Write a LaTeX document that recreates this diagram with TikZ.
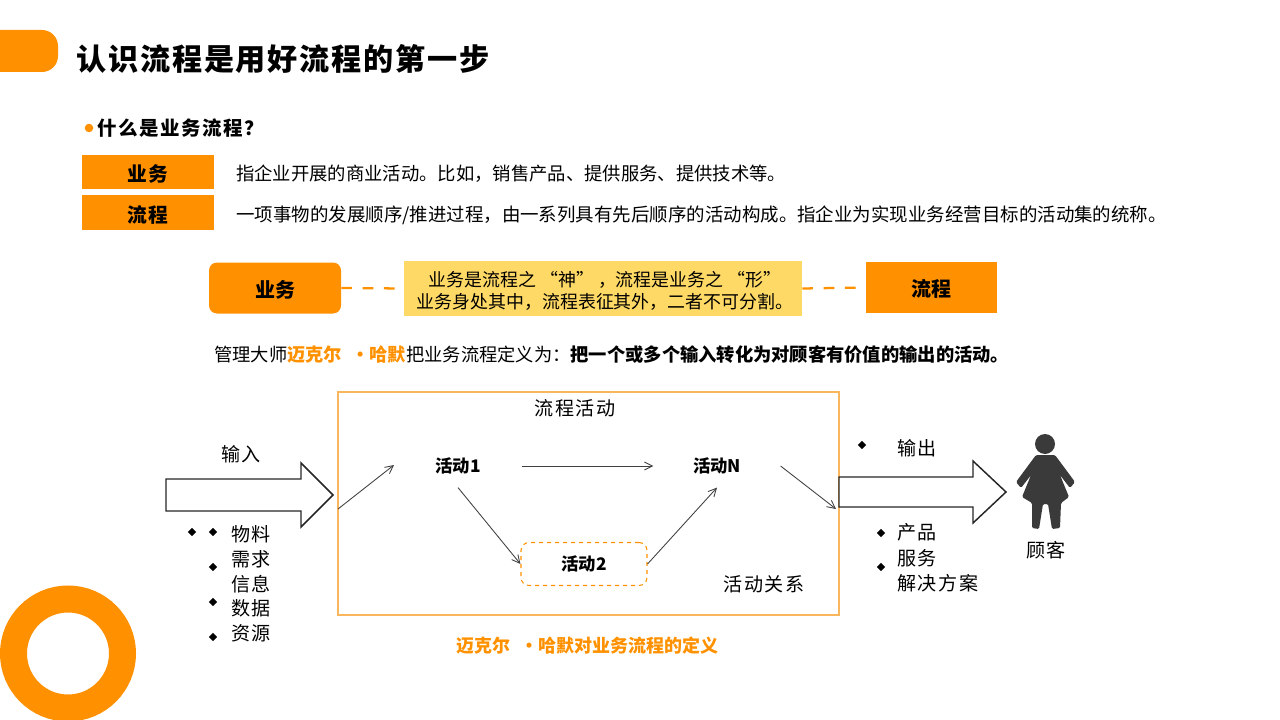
\documentclass[tikz,border=0pt]{standalone}
\usepackage{fontspec}
\usepackage{xcolor}
\usetikzlibrary{positioning, shapes.geometric, arrows.meta}
\setmainfont{Noto Sans CJK SC}
\newfontfamily\widefont[LetterSpace=8]{Noto Sans CJK SC}
\definecolor{amber}{HTML}{FF9100}
\definecolor{pale}{HTML}{FFD966}
\definecolor{edge}{HTML}{F9B65C}
\definecolor{figure}{HTML}{3A3A3A}
\newcommand{\fsz}[1]{\fontsize{#1}{#1}\selectfont}
\tikzset{
  keybox/.style={rectangle, fill=amber, inner sep=0pt, text height=15.5pt, text depth=0.5pt, font=\widefont\fsz{14.8}\bfseries},
  bodytext/.style={anchor=west, inner sep=0pt, font=\fsz{13.75}},
  labeltext/.style={inner sep=0pt, font=\widefont\fsz{14.3}},
  listtext/.style={anchor=west, inner sep=0pt, font=\widefont\fsz{14.3}},
  activity/.style={rectangle, minimum width=95pt, minimum height=32pt, inner sep=0pt, font=\fsz{13}\bfseries},
  bullet/.style={diamond, fill=black, inner sep=0pt, minimum size=6.5pt},
  flow/.style={-{Straight Barb[length=6pt,width=6pt]}, draw=black!75, line width=0.65pt},
  link/.style={draw=amber, line width=1.7pt, dash pattern=on 8pt off 8pt},
  bigarrow/.style={draw=black!85, line width=1.1pt, fill=white, line join=miter}
}
\begin{document}
\begin{tikzpicture}[x=0.75pt, y=-0.75pt]
  \useasboundingbox (0,0) rectangle (1280,720);

  % header
  \fill[amber, rounded corners=12pt] (-40,30) rectangle (58,72);
  \node[anchor=west, inner sep=0pt, font=\addfontfeature{LetterSpace=6}\fsz{22.6}\bfseries] (title) at (76,59) {认识流程是用好流程的第一步};
  \draw[amber, line width=20.25pt] (68,653.5) circle[radius=54.5];

  \fill[amber] (89,128) circle[radius=3.2pt];
  \node[bodytext, font=\widefont\fsz{14.6}\bfseries] (question) at (97,128) {什么是业务流程？};

  % two definitions
  \node[keybox, minimum width=99pt, minimum height=25.5pt] (yewu) at (148,172) {业务};
  \node[keybox, minimum width=99pt, minimum height=26.25pt] (liucheng) at (148,212.5) {流程};
  \node[bodytext] (yewutext) at (236,174) {指企业开展的商业活动。比如，销售产品、提供服务、提供技术等。};
  \node[bodytext, font=\fsz{13.85}] (liuchengtext) at (236,215) {一项事物的发展顺序/推进过程，由一系列具有先后顺序的活动构成。指企业为实现业务经营目标的活动集的统称。};

  % relation row
  \node[keybox, rounded corners=6pt, minimum width=99pt, minimum height=38.25pt, text height=14pt, font=\fsz{15}\bfseries] (shen) at (275,288) {业务};
  \node[rectangle, fill=pale, inner sep=0pt, minimum width=298.5pt, minimum height=41.25pt] (middle) at (603,288.5) {};
  \node[inner sep=0pt, align=center, font=\fsz{13.45}] (slogan) at (605,291) {业务是流程之\hspace{3pt}“神”\hspace{3pt}，流程是业务之\hspace{3pt}“形”\hspace{3pt}\\[3pt]业务身处其中，流程表征其外，二者不可分割。};
  \node[keybox, minimum width=98.25pt, minimum height=38.25pt, text height=14.5pt, font=\fsz{15}\bfseries] (xing) at (931.5,287.5) {流程};
  \draw[link] (shen.east) -- (middle.west);
  \draw[link] (middle.east) -- (xing.west);

  \node[bodytext, font=\fsz{13.7}] (hammer) at (214,355) {管理大师\textcolor{amber}{\textbf{迈克尔\hspace{7pt}・哈默}}把业务流程定义为：\textbf{把一个或多个输入转化为对顾客有价值的输出的活动。}};

  % process frame
  \node[rectangle, draw=edge, line width=1.1pt, minimum width=375.75pt, minimum height=167.25pt, inner sep=0pt] (frame) at (588.5,503.5) {};
  \node[labeltext] (frametitle) at (575,408) {流程活动};
  \node[labeltext] (relation) at (764,584) {活动关系};
  \node[activity] (act1) at (458,466) {活动1};
  \node[activity] (actN) at (717,466) {活动N};
  \node[rectangle, draw=amber, line width=0.8pt, dashed, rounded corners=6pt, minimum width=94.5pt, minimum height=32.25pt, inner sep=0pt, font=\fsz{13}\bfseries] (act2) at (584,564) {活动2};
  \coordinate (inend) at (394,465);
  \coordinate (outend) at (836,509);
  \coordinate (instart) at (338,509);
  \draw[flow] (instart) -- (inend);
  \draw[flow] (act1.east) -- (actN.west);
  \draw[flow] (act1.south) -- (act2.west);
  \draw[flow] (act2.east) -- (actN.south);
  \draw[flow] (actN.east) -- (outend);

  % input side
  \draw[bigarrow] (166,479) -- (301,479) -- (301,463) -- (333,495) -- (301,527) -- (301,511) -- (166,511) -- cycle;
  \node[labeltext] (input) at (241,454) {输入};
  \node[listtext] (wuliao) at (231,534) {物料};
  \node[listtext] (xuqiu) at (231,559) {需求};
  \node[listtext] (xinxi) at (231,584) {信息};
  \node[listtext] (shuju) at (231,608) {数据};
  \node[listtext] (ziyuan) at (231,633) {资源};
  \foreach \px/\py in {192/532, 213/532, 213/567, 213/602, 213/637}
    \node[bullet] at (\px,\py) {};

  % output side
  \draw[bigarrow] (839,477) -- (973,477) -- (973,461) -- (1006,492) -- (973,523) -- (973,507) -- (839,507) -- cycle;
  \node[labeltext] (output) at (917,448) {输出};
  \node[listtext] (chanpin) at (897,532) {产品};
  \node[listtext] (fuwu) at (897,558) {服务};
  \node[listtext] (fangan) at (897,583) {解决方案};
  \foreach \px/\py in {862/445, 881/533, 881/567}
    \node[bullet] at (\px,\py) {};

  % customer
  \fill[figure] (1045,444) circle[radius=7.5pt];
  \fill[figure, rounded corners=1pt] (1036,455) -- (1016,482) -- (1021,488) -- (1031,475) -- (1022,497) -- (1032,503) -- (1032,528) -- (1039,529) -- (1043,504) -- (1048,504) -- (1052,529) -- (1060,528) -- (1061,503) -- (1069,497) -- (1060,475) -- (1070,488) -- (1075,482) -- (1055,455) -- cycle;
  \node[labeltext] (customer) at (1046,550) {顾客};

  \node[inner sep=0pt, text=amber, font=\fsz{13.5}\bfseries] (caption) at (587.5,646) {迈克尔\hspace{7pt}・哈默对业务流程的定义};
\end{tikzpicture}
\end{document}
